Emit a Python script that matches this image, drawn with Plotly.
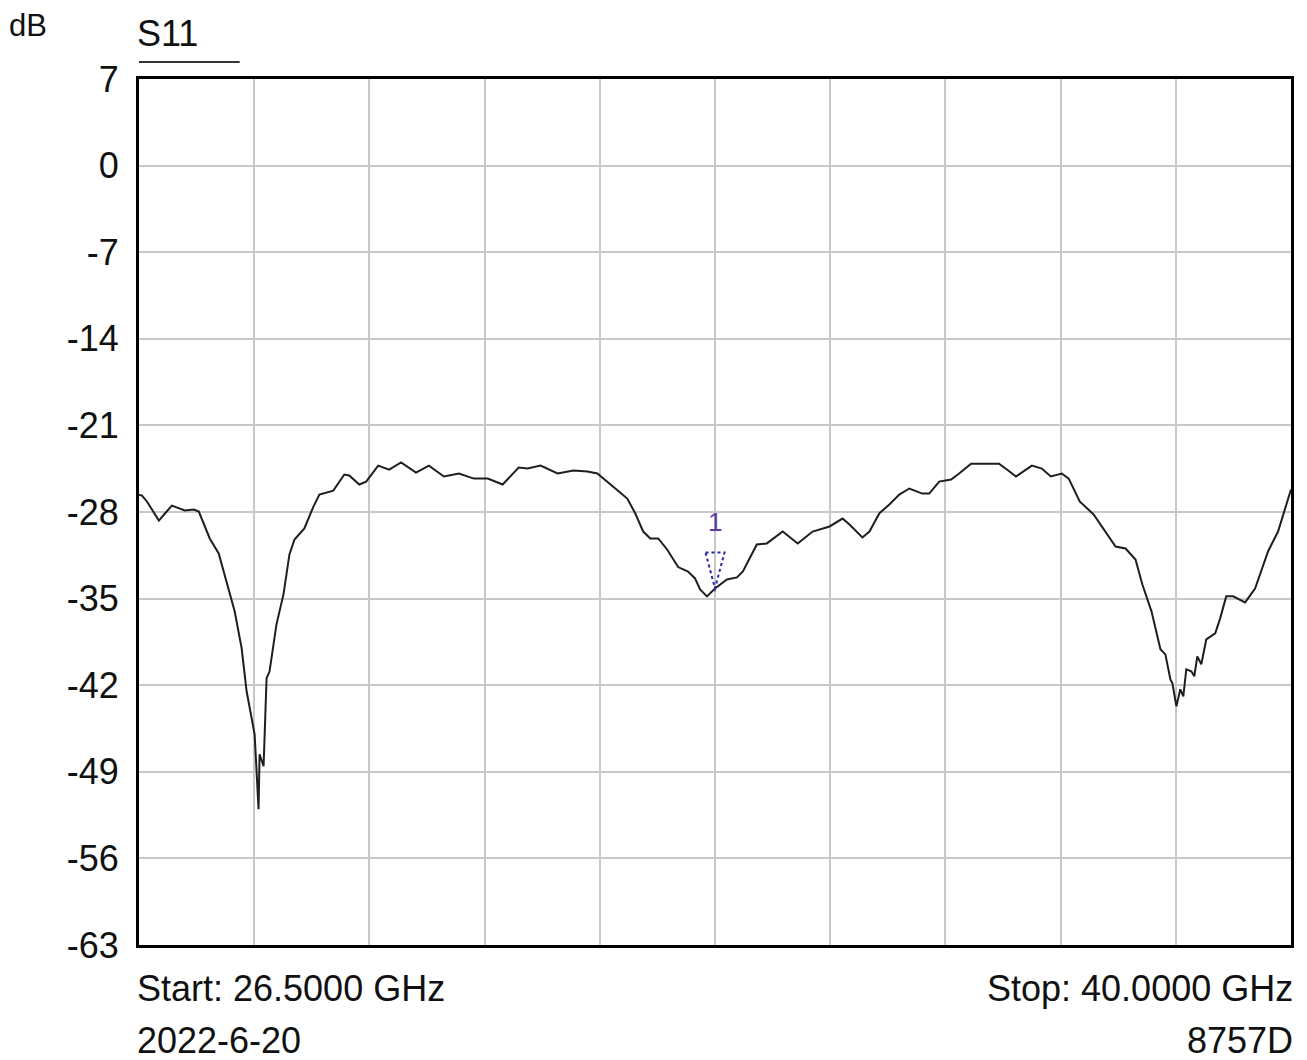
import plotly.graph_objects as go
import numpy as np

# Frequency (GHz) and S11 (dB)
freq_ghz = [26.500, 26.535, 26.593, 26.733, 26.804, 26.885, 27.037, 27.142, 27.201, 27.329,
            27.434, 27.528, 27.621, 27.703, 27.761, 27.855, 27.878, 27.901, 27.913, 27.960,
            27.995, 28.030, 28.111, 28.193, 28.263, 28.322, 28.438, 28.544, 28.614, 28.777,
            28.906, 28.964, 29.081, 29.162, 29.303, 29.431, 29.571, 29.746, 29.898, 30.073,
            30.249, 30.424, 30.587, 30.762, 30.949, 31.054, 31.206, 31.405, 31.591, 31.755,
            31.872, 32.024, 32.222, 32.316, 32.409, 32.491, 32.584, 32.689, 32.818, 32.934,
            33.016, 33.075, 33.156, 33.250, 33.390, 33.507, 33.577, 33.740, 33.857, 34.044,
            34.219, 34.394, 34.593, 34.745, 34.826, 34.978, 35.060, 35.177, 35.293, 35.410,
            35.527, 35.679, 35.761, 35.877, 36.017, 36.111, 36.251, 36.461, 36.578, 36.671,
            36.777, 36.963, 37.080, 37.185, 37.314, 37.395, 37.524, 37.687, 37.781, 37.944,
            38.061, 38.178, 38.260, 38.365, 38.470, 38.528, 38.587, 38.610, 38.657, 38.703,
            38.738, 38.773, 38.832, 38.867, 38.902, 38.949, 39.007, 39.112, 39.170, 39.241,
            39.322, 39.462, 39.579, 39.731, 39.848, 40.000]
s11_db = [-26.60, -26.67, -27.15, -28.69, -28.12, -27.48, -27.88, -27.80, -27.96, -30.14,
          -31.35, -33.61, -36.03, -39.02, -42.49, -45.97, -49.19, -52.02, -47.58, -48.55,
          -41.44, -40.88, -37.08, -34.66, -31.43, -30.22, -29.33, -27.56, -26.59, -26.27,
          -24.97, -25.05, -25.78, -25.54, -24.25, -24.57, -24.00, -24.81, -24.25, -25.13,
          -24.89, -25.30, -25.30, -25.78, -24.41, -24.49, -24.25, -24.89, -24.65, -24.73,
          -24.89, -25.78, -26.91, -28.12, -29.58, -30.14, -30.14, -31.03, -32.45, -32.81,
          -33.37, -34.26, -34.82, -34.18, -33.45, -33.29, -32.81, -30.63, -30.54, -29.58,
          -30.54, -29.58, -29.17, -28.53, -29.01, -30.06, -29.58, -28.10, -27.40, -26.59,
          -26.10, -26.51, -26.51, -25.54, -25.38, -24.89, -24.09, -24.09, -24.09, -24.57,
          -25.13, -24.25, -24.49, -25.13, -24.89, -25.30, -27.15, -28.20, -29.17, -30.79,
          -30.95, -31.84, -33.90, -36.03, -39.10, -39.51, -41.53, -41.85, -43.71, -42.33,
          -42.90, -40.72, -40.88, -41.28, -39.67, -40.31, -38.30, -37.81, -36.60, -34.82,
          -34.82, -35.31, -34.18, -31.19, -29.58, -26.18]

y_tick_vals = [7, 0, -7, -14, -21, -28, -35, -42, -49, -56, -63]
y_tick_text = ["7", "0", "-7", "-14", "-21", "-28", "-35", "-42", "-49", "-56", "-63"]
x_start, x_stop, x_divisions = 26.5, 40.0, 10
marker_freq = 33.25
marker_label = "1"

marker_db = float(np.interp(marker_freq, freq_ghz, s11_db))

fig = go.Figure()
fig.add_trace(go.Scatter(x=freq_ghz, y=s11_db, mode="lines",
                         line=dict(color="#1e1e1e", width=2), showlegend=False,
                         hoverinfo="x+y"))

FONT = "Liberation Sans, Arial, sans-serif"
TXT = "#111111"
fig.update_layout(
    width=1299, height=1052,
    margin=dict(l=131, r=16, t=71, b=115),
    paper_bgcolor="white", plot_bgcolor="white",
    font=dict(family=FONT, size=36, color=TXT),
    showlegend=False,
)
fig.update_xaxes(range=[x_start, x_stop], tickmode="linear", tick0=x_start,
                 dtick=(x_stop - x_start) / x_divisions, showticklabels=False,
                 showgrid=True, gridcolor="#c8c8c8", gridwidth=2, zeroline=False,
                 showline=True, linecolor="black", linewidth=3, mirror=True, ticks="")
fig.update_yaxes(range=[-63, 7], tickmode="array", tickvals=y_tick_vals, ticktext=y_tick_text,
                 showgrid=True, gridcolor="#c8c8c8", gridwidth=2, zeroline=False,
                 showline=True, linecolor="black", linewidth=3, mirror=True, ticks="",
                 ticklabelstandoff=10, tickfont=dict(size=36, color=TXT))

# Marker triangle and label
fig.add_shape(type="path", xref="x", yref="y", xsizemode="pixel", ysizemode="pixel",
              xanchor=marker_freq, yanchor=marker_db,
              path="M -9.5,36 L 9.5,36 L 0,0 Z",
              line=dict(color="#2828a0", width=2, dash="dot"))
fig.add_annotation(x=marker_freq, y=marker_db, xref="x", yref="y", text=marker_label,
                   showarrow=False, yanchor="middle", yshift=66,
                   font=dict(size=26, color="#5a3ca0"))

# Header / footer texts
fig.add_annotation(x=-0.111, y=1.062, xref="paper", yref="paper", text="dB", showarrow=False,
                   xanchor="left", yanchor="middle", xshift=-4, font=dict(size=31))
fig.add_annotation(x=0.0, y=1.053, xref="paper", yref="paper", text="S11", showarrow=False,
                   xanchor="left", yanchor="middle", xshift=-4, font=dict(size=36))
fig.add_shape(type="line", xref="paper", yref="paper", x0=0.0, x1=0.0874, y0=1.0195, y1=1.0195,
              line=dict(color="#333333", width=2))
fig.add_annotation(x=0.0, y=-0.0507, xref="paper", yref="paper", text="Start: 26.5000 GHz",
                   showarrow=False, xanchor="left", yanchor="middle", xshift=-4,
                   font=dict(size=36))
fig.add_annotation(x=0.0, y=-0.1107, xref="paper", yref="paper", text="2022-6-20",
                   showarrow=False, xanchor="left", yanchor="middle", xshift=-4,
                   font=dict(size=36))
fig.add_annotation(x=1.0, y=-0.0507, xref="paper", yref="paper", text="Stop: 40.0000 GHz",
                   showarrow=False, xanchor="right", yanchor="middle", xshift=4,
                   font=dict(size=36))
fig.add_annotation(x=1.0, y=-0.1107, xref="paper", yref="paper", text="8757D",
                   showarrow=False, xanchor="right", yanchor="middle", xshift=4,
                   font=dict(size=36))

fig.write_html("out.html")
